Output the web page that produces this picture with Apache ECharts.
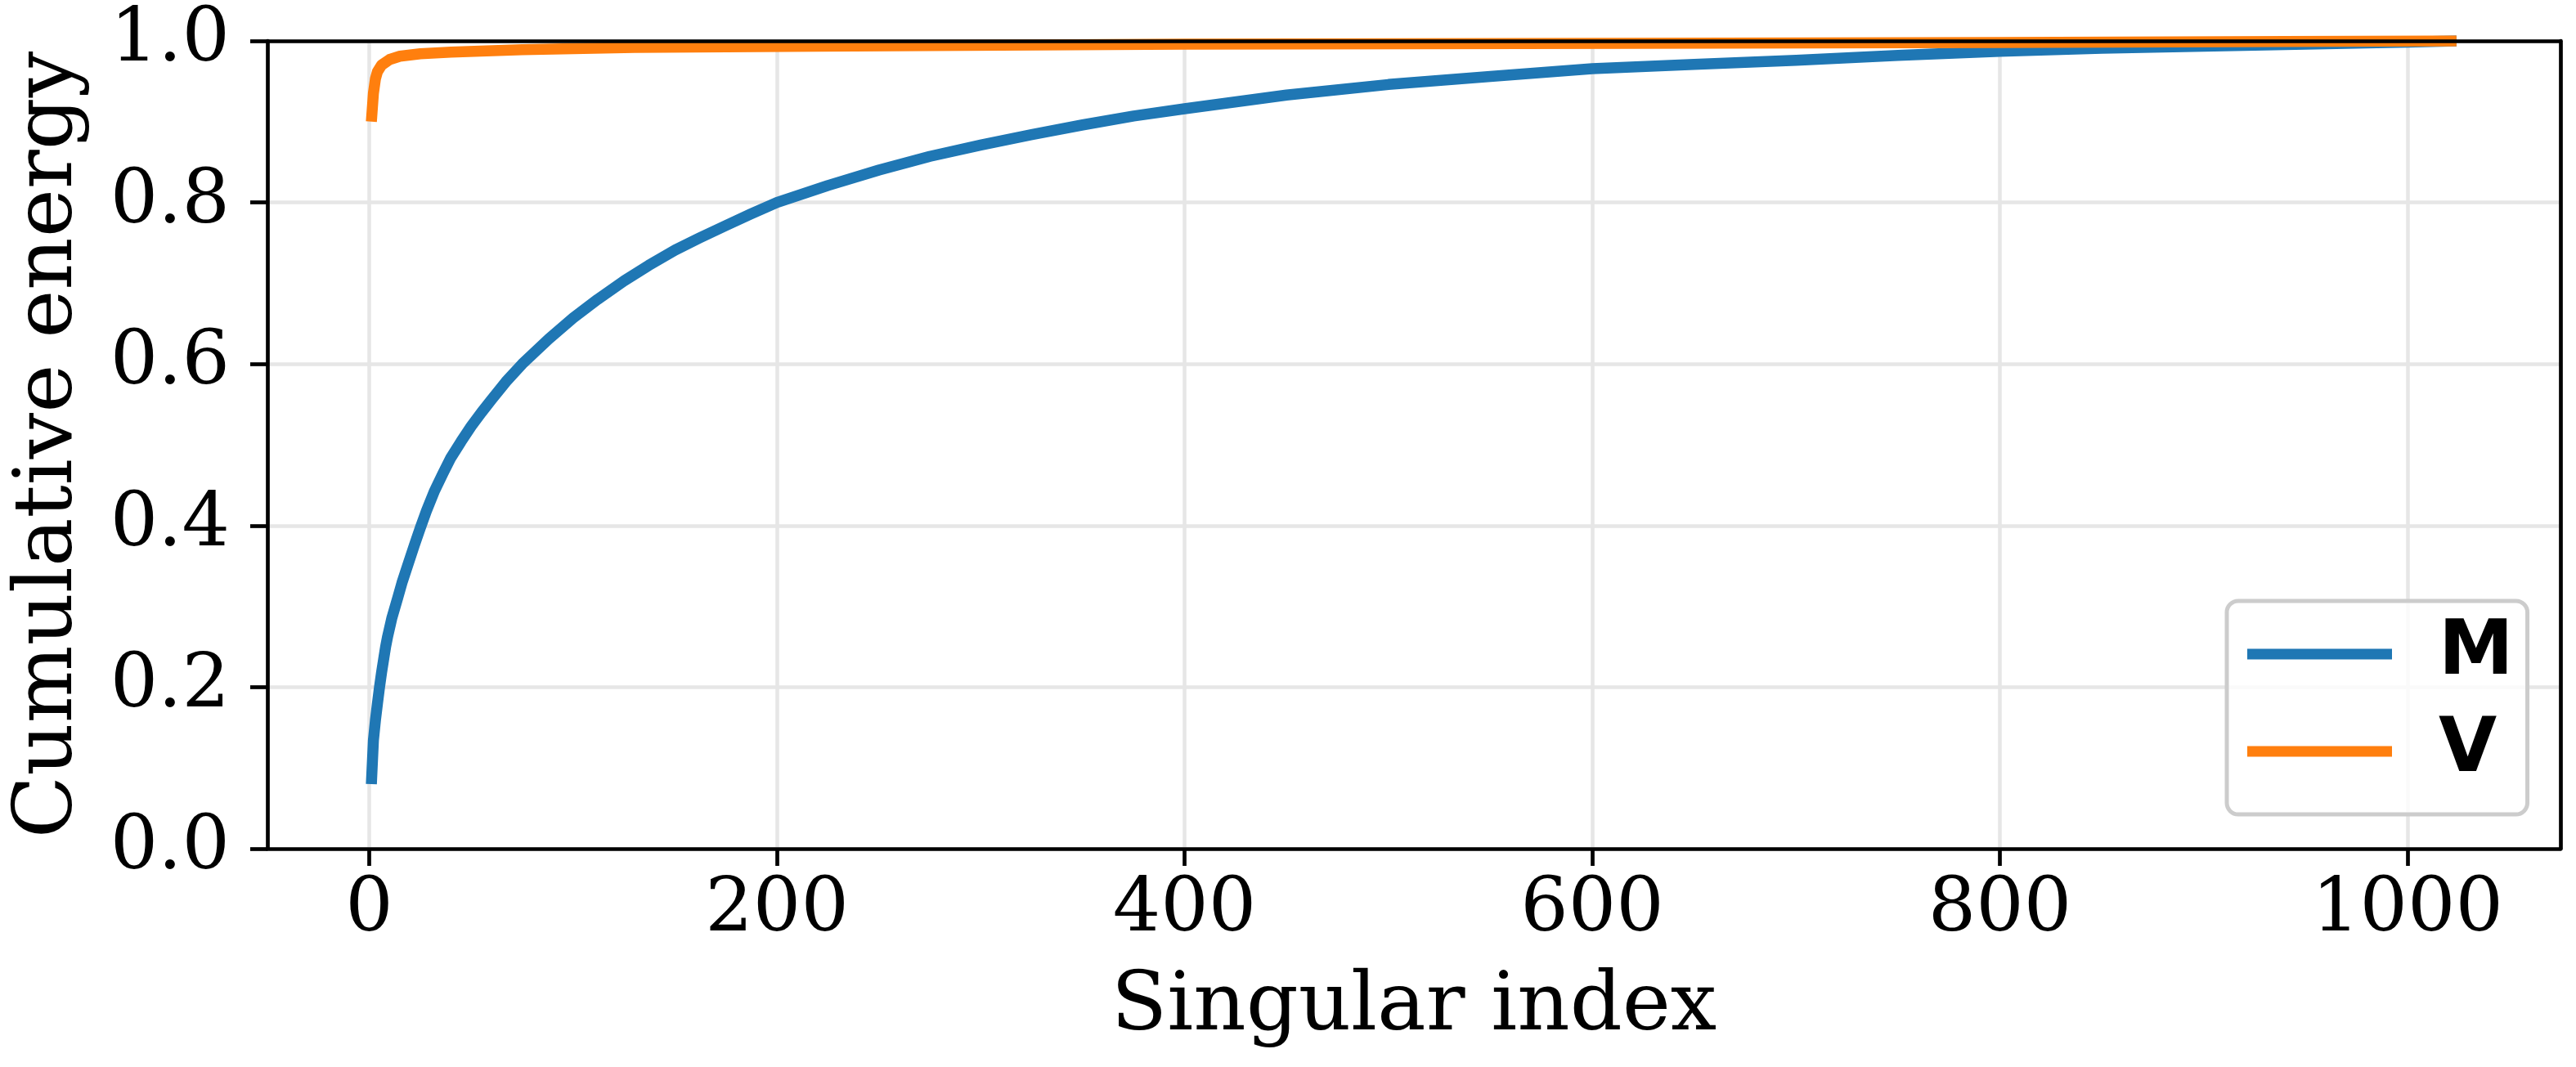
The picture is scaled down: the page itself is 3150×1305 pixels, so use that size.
<!DOCTYPE html>
<html>
<head>
<meta charset="utf-8">
<script src="https://cdn.jsdelivr.net/npm/echarts@6/dist/echarts.min.js"></script>
<style>
html, body { margin: 0; padding: 0; background: #fff; }
#energy { width: 3150px; height: 1305px; }
</style>
</head>
<body>
<div id="energy"></div>
<script>
// cumulative energy of the singular values
var mIndex = [1, 2, 3, 4, 5, 6, 7, 8, 9, 11, 14, 16, 19, 22, 25, 28, 32, 36, 40, 45, 50, 55, 60, 67, 75, 88, 100, 112, 125, 137, 150, 162, 175, 187, 200, 225, 250, 275, 300, 325, 350, 375, 400, 450, 500, 550, 600, 650, 700, 750, 800, 850, 900, 950, 1000, 1024];
var mEnergy = [0.080, 0.134, 0.159, 0.180, 0.200, 0.218, 0.234, 0.250, 0.263, 0.285, 0.311, 0.329, 0.352, 0.375, 0.397, 0.418, 0.443, 0.464, 0.484, 0.504, 0.523, 0.540, 0.556, 0.578, 0.600, 0.631, 0.657, 0.680, 0.703, 0.722, 0.741, 0.756, 0.7715, 0.7855, 0.800, 0.821, 0.840, 0.857, 0.871, 0.884, 0.896, 0.907, 0.916, 0.933, 0.946, 0.956, 0.9655, 0.971, 0.976, 0.982, 0.987, 0.991, 0.9935, 0.996, 0.9985, 1.000];
var vIndex = [1, 2, 3, 4, 6, 10, 15, 25, 40, 75, 130, 220, 400, 620, 800, 1024];
var vEnergy = [0.900, 0.935, 0.953, 0.962, 0.970, 0.977, 0.981, 0.984, 0.986, 0.989, 0.992, 0.9935, 0.996, 0.997, 0.998, 1.000];

var xTicks = [0, 200, 400, 600, 800, 1000];
var xTickLabels = ["0", "200", "400", "600", "800", "1000"];
var yTicks = [0, 0.2, 0.4, 0.6, 0.8, 1.0];
var yTickLabels = ["0.0", "0.2", "0.4", "0.6", "0.8", "1.0"];

function pairs(xs, ys) {
  return xs.map(function(x, i) { return [x, ys[i]]; });
}

var black = "#000000";
var spine = { color: black, width: 4.7 };

var myChart = echarts.init(document.getElementById("energy"));
myChart.setOption({
  animation: false,
  backgroundColor: "#ffffff",
  grid: { left: 327, right: 19, top: 50, bottom: 267 },
  legend: {
    orient: "vertical",
    left: 2723,
    top: 735,
    data: [{ name: "M", icon: "rect" }, { name: "V", icon: "rect" }],
    itemWidth: 177,
    itemHeight: 13,
    itemGap: 27,
    padding: [19, 17, 31, 25],
    backgroundColor: "rgba(255,255,255,0.8)",
    borderColor: "#cccccc",
    borderWidth: 5,
    borderRadius: 14,
    selectedMode: false,
    z: 20,
    textStyle: {
      fontFamily: "DejaVu Sans",
      fontWeight: "bold",
      fontSize: 92,
      color: black,
      padding: [0, 0, 0, 52]
    }
  },
  xAxis: [
    {
      type: "value",
      min: -50,
      max: 1075,
      position: "bottom",
      name: "Singular index",
      nameLocation: "middle",
      nameGap: 145,
      nameTextStyle: { fontFamily: "DejaVu Serif", fontSize: 100, color: black },
      axisLine: { show: true, onZero: false, lineStyle: spine },
      axisTick: { show: true, customValues: xTicks, length: 21, lineStyle: spine },
      axisLabel: {
        customValues: xTicks,
        margin: 30,
        fontFamily: "DejaVu Serif",
        fontSize: 92,
        color: black,
        formatter: function(v) {
          var k = xTicks.indexOf(v);
          return k >= 0 ? xTickLabels[k] : String(v);
        }
      },
      splitLine: { show: true, lineStyle: { color: "#e6e6e6", width: 4.5 } }
    },
    {
      // top spine, drawn over the lines like matplotlib does
      type: "value",
      min: -50,
      max: 1075,
      position: "top",
      z: 10,
      axisLine: { show: true, onZero: false, lineStyle: spine },
      axisTick: { show: false },
      axisLabel: { show: false },
      splitLine: { show: false }
    }
  ],
  yAxis: [
    {
      type: "value",
      min: 0,
      max: 1,
      position: "left",
      name: "Cumulative energy",
      nameLocation: "middle",
      nameGap: 216,
      nameTextStyle: { fontFamily: "DejaVu Serif", fontSize: 100, color: black },
      axisLine: { show: true, onZero: false, lineStyle: spine },
      axisTick: { show: true, customValues: yTicks, length: 21, lineStyle: spine },
      axisLabel: {
        customValues: yTicks,
        margin: 46,
        fontFamily: "DejaVu Serif",
        fontSize: 92,
        color: black,
        formatter: function(v) {
          var k = yTicks.indexOf(v);
          return k >= 0 ? yTickLabels[k] : v.toFixed(1);
        }
      },
      splitLine: { show: true, lineStyle: { color: "#e6e6e6", width: 4.5 } }
    },
    {
      // right spine
      type: "value",
      min: 0,
      max: 1,
      position: "right",
      z: 10,
      axisLine: { show: true, onZero: false, lineStyle: spine },
      axisTick: { show: false },
      axisLabel: { show: false },
      splitLine: { show: false }
    }
  ],
  series: [
    {
      name: "M",
      type: "line",
      data: pairs(mIndex, mEnergy),
      showSymbol: false,
      color: "#1f77b4",
      lineStyle: { width: 13.5, color: "#1f77b4", cap: "butt", join: "round" }
    },
    {
      name: "V",
      type: "line",
      data: pairs(vIndex, vEnergy),
      showSymbol: false,
      color: "#ff7f0e",
      lineStyle: { width: 13.5, color: "#ff7f0e", cap: "butt", join: "round" }
    }
  ]
});
</script>
</body>
</html>
